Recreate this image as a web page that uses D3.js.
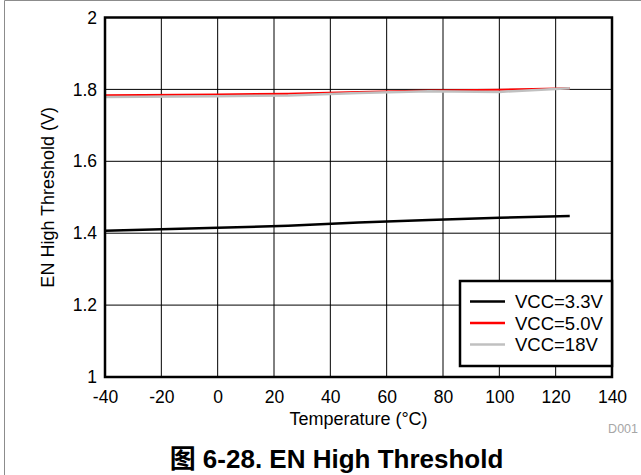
<!DOCTYPE html>
<html>
<head>
<meta charset="utf-8">
<script src="https://cdn.jsdelivr.net/npm/d3@7"></script>
<style>
  body { margin: 0; background: #fff; }
  svg { display: block; font-family: Arial, "Liberation Sans", Helvetica, sans-serif; }
</style>
</head>
<body>
<svg id="chart" width="641" height="475"></svg>
<script>
// values
var temps = [-40, 0, 25, 50, 75, 100, 125];
var vcc33 = [1.407, 1.415, 1.421, 1.430, 1.437, 1.443, 1.448];
var vcc50 = [1.784, 1.786, 1.788, 1.793, 1.797, 1.799, 1.803];
var vcc18 = [1.779, 1.781, 1.783, 1.790, 1.795, 1.793, 1.803];
var seriesNames = ["VCC=3.3V", "VCC=5.0V", "VCC=18V"];
var seriesColors = ["#000000", "#ff0000", "#c0c0c0"];
var xTicks = [-40, -20, 0, 20, 40, 60, 80, 100, 120, 140];
var yTicks = [1, 1.2, 1.4, 1.6, 1.8, 2];

var margin = {top: 17.5, right: 29, bottom: 98, left: 105},
    width = 641 - margin.left - margin.right,
    height = 475 - margin.top - margin.bottom;

var svg = d3.select("#chart");

// outer frame (only left and top visible)
svg.append("path")
    .attr("d", "M4.5,475V0.5H641")
    .attr("fill", "none")
    .attr("stroke", "#8c8c8c")
    .attr("stroke-width", 1);

var g = svg.append("g")
    .attr("transform", "translate(" + margin.left + "," + margin.top + ")");

var x = d3.scaleLinear().domain([-40, 140]).range([0, width]);
var y = d3.scaleLinear().domain([1, 2]).range([height, 0]);

// grid
g.append("g")
  .selectAll("line")
  .data(xTicks)
  .enter().append("line")
    .attr("x1", x).attr("x2", x)
    .attr("y1", 0).attr("y2", height)
    .attr("stroke", "#000")
    .attr("stroke-width", 1);

g.append("g")
  .selectAll("line")
  .data(yTicks)
  .enter().append("line")
    .attr("x1", 0).attr("x2", width)
    .attr("y1", y).attr("y2", y)
    .attr("stroke", "#000")
    .attr("stroke-width", 1);

// tick labels via d3 axes, no domain / tick marks
var xAxis = g.append("g")
    .attr("transform", "translate(0," + height + ")")
    .call(d3.axisBottom(x).tickValues(xTicks).tickSize(0).tickPadding(14).tickFormat(String));
var yAxis = g.append("g")
    .call(d3.axisLeft(y).tickValues(yTicks).tickSize(0).tickPadding(8).tickFormat(String));
[xAxis, yAxis].forEach(function(a) {
  a.select(".domain").remove();
  a.selectAll("text")
      .attr("font-family", "Arial, 'Liberation Sans', sans-serif")
      .attr("font-size", 17.5)
      .attr("fill", "#000");
});

// data lines
var line = d3.line()
    .x(function(d, i) { return x(temps[i]); })
    .y(function(d) { return y(d); });

[vcc33, vcc50, vcc18].forEach(function(s, i) {
  g.append("path")
      .datum(s)
      .attr("fill", "none")
      .attr("stroke", seriesColors[i])
      .attr("stroke-width", i === 1 ? 2 : 2.5)
      .attr("d", line);
});

// plot frame
g.append("rect")
    .attr("width", width)
    .attr("height", height)
    .attr("fill", "none")
    .attr("stroke", "#000")
    .attr("stroke-width", 2.5);

// legend
var legend = g.append("g")
    .attr("transform", "translate(" + (width - 152) + "," + (height - 96) + ")");
legend.append("rect")
    .attr("width", 152)
    .attr("height", 85)
    .attr("fill", "#fff")
    .attr("stroke", "#000")
    .attr("stroke-width", 2.5);
var item = legend.selectAll(".item")
  .data(seriesNames)
  .enter().append("g")
    .attr("transform", function(d, i) { return "translate(0," + (20.5 + i * 21.5) + ")"; });
item.append("line")
    .attr("x1", 10).attr("x2", 45)
    .attr("stroke", function(d, i) { return seriesColors[i]; })
    .attr("stroke-width", 2.5);
item.append("text")
    .attr("x", 55)
    .attr("dy", "0.36em")
    .attr("font-size", 18.5)
    .text(function(d) { return d; });

// axis titles
svg.append("text")
    .attr("x", margin.left + width / 2)
    .attr("y", 425)
    .attr("text-anchor", "middle")
    .attr("font-size", 18)
    .text("Temperature (°C)");

svg.append("text")
    .attr("transform", "translate(54," + (margin.top + height / 2) + ") rotate(-90)")
    .attr("text-anchor", "middle")
    .attr("font-size", 18)
    .text("EN High Threshold (V)");

svg.append("text")
    .attr("x", 638)
    .attr("y", 433)
    .attr("text-anchor", "end")
    .attr("font-size", 12.5)
    .attr("fill", "#a6a6a6")
    .text("D001");

// caption
svg.append("text")
    .attr("x", 336.5)
    .attr("y", 468)
    .attr("text-anchor", "middle")
    .attr("font-size", 26)
    .attr("font-weight", "bold")
    .attr("font-family", "Arial, 'Liberation Sans', 'Noto Sans CJK SC', sans-serif")
    .text("图 6-28. EN High Threshold");
</script>
</body>
</html>
